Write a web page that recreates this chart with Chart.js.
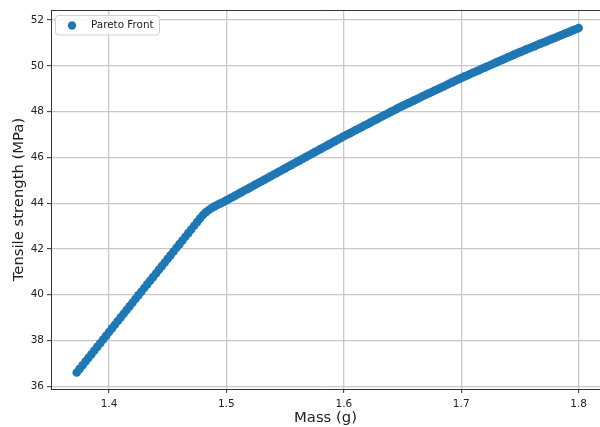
<!DOCTYPE html>
<html>
<head>
<meta charset="utf-8">
<script src="https://cdn.jsdelivr.net/npm/chart.js@4"></script>
<style>
    html, body { margin: 0; padding: 0; background: #fff; }
    #paretoChart { display: block; }
</style>
</head>
<body>
<canvas id="paretoChart" width="600" height="427"></canvas>
<script>
// Mass values (g) read along the front
const masses = [
    1.3725, 1.3750, 1.3775, 1.3800, 1.3825, 1.3850, 1.3875, 1.3900, 1.3925, 1.3950,
    1.3975, 1.4000, 1.4025, 1.4050, 1.4075, 1.4100, 1.4125, 1.4150, 1.4175, 1.4200,
    1.4225, 1.4250, 1.4275, 1.4300, 1.4325, 1.4350, 1.4375, 1.4400, 1.4425, 1.4450,
    1.4475, 1.4500, 1.4525, 1.4550, 1.4575, 1.4600, 1.4625, 1.4650, 1.4675, 1.4700,
    1.4725, 1.4750, 1.4775, 1.4800, 1.4825, 1.4850, 1.4875, 1.4900, 1.4925, 1.4950,
    1.4975, 1.5000, 1.5025, 1.5050, 1.5075, 1.5100, 1.5125, 1.5150, 1.5175, 1.5200,
    1.5225, 1.5250, 1.5275, 1.5300, 1.5325, 1.5350, 1.5375, 1.5400, 1.5425, 1.5450,
    1.5475, 1.5500, 1.5525, 1.5550, 1.5575, 1.5600, 1.5625, 1.5650, 1.5675, 1.5700,
    1.5725, 1.5750, 1.5775, 1.5800, 1.5825, 1.5850, 1.5875, 1.5900, 1.5925, 1.5950,
    1.5975, 1.6000, 1.6025, 1.6050, 1.6075, 1.6100, 1.6125, 1.6150, 1.6175, 1.6200,
    1.6225, 1.6250, 1.6275, 1.6300, 1.6325, 1.6350, 1.6375, 1.6400, 1.6425, 1.6450,
    1.6475, 1.6500, 1.6525, 1.6550, 1.6575, 1.6600, 1.6625, 1.6650, 1.6675, 1.6700,
    1.6725, 1.6750, 1.6775, 1.6800, 1.6825, 1.6850, 1.6875, 1.6900, 1.6925, 1.6950,
    1.6975, 1.7000, 1.7025, 1.7050, 1.7075, 1.7100, 1.7125, 1.7150, 1.7175, 1.7200,
    1.7225, 1.7250, 1.7275, 1.7300, 1.7325, 1.7350, 1.7375, 1.7400, 1.7425, 1.7450,
    1.7475, 1.7500, 1.7525, 1.7550, 1.7575, 1.7600, 1.7625, 1.7650, 1.7675, 1.7700,
    1.7725, 1.7750, 1.7775, 1.7800, 1.7825, 1.7850, 1.7875, 1.7900, 1.7925, 1.7950,
    1.7975, 1.8000
];

// Tensile strength values (MPa), same order as masses
const strengths = [
    36.60, 36.76, 36.92, 37.08, 37.24, 37.40, 37.56, 37.72, 37.88, 38.04,
    38.20, 38.37, 38.53, 38.69, 38.85, 39.01, 39.17, 39.33, 39.49, 39.65,
    39.81, 39.97, 40.13, 40.29, 40.45, 40.61, 40.77, 40.93, 41.09, 41.25,
    41.41, 41.57, 41.73, 41.89, 42.05, 42.21, 42.37, 42.53, 42.69, 42.85,
    43.01, 43.17, 43.33, 43.48, 43.60, 43.70, 43.79, 43.86, 43.93, 43.99,
    44.05, 44.12, 44.19, 44.26, 44.33, 44.40, 44.47, 44.54, 44.61, 44.68,
    44.75, 44.82, 44.89, 44.96, 45.03, 45.10, 45.17, 45.24, 45.31, 45.38,
    45.45, 45.52, 45.59, 45.66, 45.73, 45.80, 45.87, 45.94, 46.01, 46.08,
    46.15, 46.22, 46.29, 46.36, 46.43, 46.50, 46.57, 46.64, 46.71, 46.78,
    46.85, 46.92, 46.99, 47.05, 47.12, 47.19, 47.25, 47.32, 47.39, 47.45,
    47.52, 47.59, 47.65, 47.72, 47.79, 47.85, 47.92, 47.99, 48.05, 48.12,
    48.19, 48.25, 48.31, 48.37, 48.43, 48.49, 48.55, 48.62, 48.68, 48.74,
    48.80, 48.86, 48.92, 48.98, 49.04, 49.10, 49.16, 49.23, 49.29, 49.35,
    49.41, 49.47, 49.53, 49.58, 49.64, 49.70, 49.75, 49.81, 49.87, 49.92,
    49.98, 50.04, 50.09, 50.15, 50.21, 50.26, 50.32, 50.38, 50.43, 50.49,
    50.55, 50.60, 50.65, 50.71, 50.76, 50.81, 50.86, 50.92, 50.97, 51.02,
    51.07, 51.13, 51.18, 51.23, 51.28, 51.34, 51.39, 51.44, 51.49, 51.55,
    51.60, 51.65
];

const massTicks = [1.4, 1.5, 1.6, 1.7, 1.8];
const strengthTicks = [36, 38, 40, 42, 44, 46, 48, 50, 52];
const seriesLabel = 'Pareto Front';

const blue = '#1f77b4';
const textColor = '#222222';
const fontFamily = '"DejaVu Sans", sans-serif';

// top spine + legend box drawn inside the plot, matplotlib style
const framePlugin = {
    id: 'frame',
    afterDraw(chart) {
        const ctx = chart.ctx;
        const area = chart.chartArea;
        ctx.save();
        ctx.strokeStyle = '#333333';
        ctx.lineWidth = 1;
        ctx.beginPath();
        ctx.moveTo(area.left, area.top + 0.5);
        ctx.lineTo(area.right, area.top + 0.5);
        ctx.stroke();

        // legend
        const bx = area.left + 4.5, by = area.top + 5.5, bw = 104, bh = 19.5;
        ctx.beginPath();
        ctx.roundRect(bx, by, bw, bh, 3);
        ctx.fillStyle = 'rgba(255,255,255,0.85)';
        ctx.fill();
        ctx.strokeStyle = '#d0d0d0';
        ctx.stroke();

        ctx.beginPath();
        ctx.arc(bx + 16.5, by + 10, 4.2, 0, Math.PI * 2);
        ctx.fillStyle = chart.data.datasets[0].backgroundColor;
        ctx.fill();

        ctx.fillStyle = textColor;
        ctx.font = '10.4px ' + fontFamily;
        ctx.textBaseline = 'middle';
        ctx.textAlign = 'left';
        ctx.fillText(chart.data.datasets[0].label, bx + 35.5, by + 10);
        ctx.restore();
    }
};

const ctx = document.getElementById('paretoChart').getContext('2d');
const chart = new Chart(ctx, {
    type: 'scatter',
    data: {
        datasets: [{
            label: seriesLabel,
            data: masses.map((m, i) => ({ x: m, y: strengths[i] })),
            backgroundColor: blue,
            borderColor: blue,
            borderWidth: 0,
            pointRadius: 4.3,
            pointHoverRadius: 4.3
        }]
    },
    options: {
        responsive: false,
        animation: false,
        devicePixelRatio: 1,
        layout: {
            autoPadding: false, // plot runs right to the canvas edge
            padding: { top: 10, right: 0, bottom: 0, left: 0 }
        },
        plugins: {
            legend: { display: false },
            tooltip: { enabled: false }
        },
        scales: {
            x: {
                type: 'linear',
                min: 1.3506,
                max: 1.8182,
                afterBuildTicks: (scale) => {
                    scale.ticks = massTicks.map(v => ({ value: v }));
                },
                afterFit: (scale) => {
                    scale.height = 38;
                    scale.paddingLeft = 0;
                    scale.paddingRight = 0;
                },
                grid: {
                    color: '#c8c8c8',
                    lineWidth: 1.3,
                    tickColor: '#333333',
                    tickLength: 4,
                    tickWidth: 1
                },
                border: { display: true, color: '#333333', width: 1 },
                ticks: {
                    color: textColor,
                    padding: 5,
                    font: { family: fontFamily, size: 10.5 },
                    callback: (v) => v.toFixed(1)
                },
                title: {
                    display: true,
                    text: 'Mass (g)',
                    color: textColor,
                    padding: { top: 0, bottom: 0 },
                    font: { family: fontFamily, size: 14.8 }
                }
            },
            y: {
                type: 'linear',
                min: 35.88,
                max: 52.44,
                afterBuildTicks: (scale) => {
                    scale.ticks = strengthTicks.map(v => ({ value: v }));
                },
                afterFit: (scale) => { scale.width = 51; },
                grid: {
                    color: '#c8c8c8',
                    lineWidth: 1.3,
                    tickColor: '#333333',
                    tickLength: 4,
                    tickWidth: 1
                },
                border: { display: true, color: '#333333', width: 1 },
                ticks: {
                    color: textColor,
                    padding: 3,
                    font: { family: fontFamily, size: 10.5 },
                    callback: (v) => String(v)
                },
                title: {
                    display: true,
                    text: 'Tensile strength (MPa)',
                    color: textColor,
                    padding: { top: 10, bottom: 0 },
                    font: { family: fontFamily, size: 14.8 }
                }
            }
        }
    },
    plugins: [framePlugin]
});
</script>
</body>
</html>
